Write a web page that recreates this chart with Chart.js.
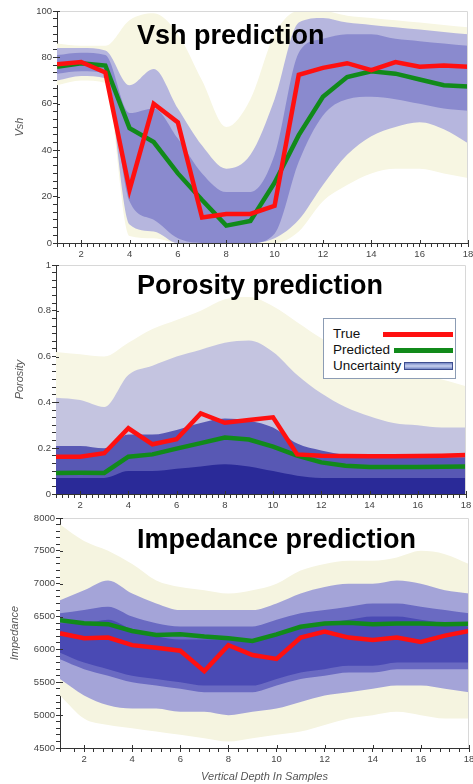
<!DOCTYPE html>
<html><head><meta charset="utf-8">
<script src="https://cdn.jsdelivr.net/npm/chart.js@4.4.0/dist/chart.umd.min.js"></script>
<style>
html,body{margin:0;padding:0;background:#fff;width:473px;height:784px;overflow:hidden;}
.panel{position:absolute;left:0;width:473px;}
#p1{top:0;height:262px;z-index:1}
#p2{top:258px;height:252px;z-index:2}
#p3{top:508px;height:276px;z-index:3;background:#fff}
canvas{display:block}
#legend{position:absolute;left:323px;top:318px;width:131px;height:59px;border:1px solid #8c9cb4;background:#fff;z-index:5;font-family:"Liberation Sans",Arial,sans-serif;font-size:13.5px;color:#111}
.row{position:absolute;left:9px;height:16px;line-height:16px;white-space:nowrap}
.sw{position:absolute;box-sizing:border-box}
</style></head>
<body>
<div class="panel" id="p1"><canvas id="c1" width="473" height="262"></canvas></div>
<div class="panel" id="p2"><canvas id="c2" width="473" height="252"></canvas></div>
<div class="panel" id="p3"><canvas id="c3" width="473" height="276"></canvas></div>
<div id="legend"></div>
<script>
// ---------- DATA ----------
const depth = [1,2,3,4,5,6,7,8,9,10,11,12,13,14,15,16,17,18];

// Vsh
const vshTrue = [77, 78, 73.5, 23, 60, 52, 11, 12.5, 12.5, 16, 72.5, 75.5, 77.5, 74.5, 78, 76, 76.5, 76];
const vshPred = [76, 77.5, 76.5, 49.5, 43.5, 30, 18.5, 7.5, 9.5, 26, 46.5, 63, 71.5, 74, 73, 70.5, 68, 67.5];
const vshOuterHi = [86, 85, 85, 96, 99, 90, 70, 50, 62, 90, 100, 100, 98, 97, 96, 95, 94, 93];
const vshOuterLo = [68, 70, 69, 3, 2, 0, 0, 0, 0, 0, 5, 18, 25, 30, 32, 32, 30, 28];
const vshMidHi = [84, 84, 83, 68, 75, 58, 42, 32, 38, 62, 95, 97, 95, 94, 93, 92, 91, 90];
const vshMidLo = [70, 72, 71, 8, 5, 0, 0, 0, 0, 2, 10, 25, 38, 46, 50, 52, 49, 43];
const vshCoreHi = [81, 82, 81, 56, 58, 45, 30, 22, 22, 38, 82, 88, 90, 90, 88, 87, 86, 85];
const vshCoreLo = [73, 74, 73, 18, 10, 2, 0, 0, 0, 4, 35, 55, 62, 63, 62, 60, 58, 57];

// Porosity
const poroTrue = [0.163, 0.163, 0.178, 0.287, 0.217, 0.239, 0.352, 0.311, 0.323, 0.335, 0.173, 0.167, 0.166, 0.165, 0.165, 0.166, 0.167, 0.17];
const poroPred = [0.092, 0.093, 0.092, 0.163, 0.173, 0.198, 0.222, 0.247, 0.238, 0.207, 0.168, 0.138, 0.123, 0.118, 0.118, 0.118, 0.119, 0.12];
const poroOuterHi = [0.62, 0.61, 0.6, 0.66, 0.72, 0.76, 0.8, 0.85, 0.86, 0.82, 0.75, 0.68, 0.62, 0.57, 0.54, 0.52, 0.5, 0.47];
const poroMidHi = [0.42, 0.41, 0.38, 0.52, 0.56, 0.6, 0.63, 0.66, 0.67, 0.62, 0.52, 0.44, 0.38, 0.34, 0.31, 0.3, 0.29, 0.29];
const poroCoreHi = [0.21, 0.21, 0.2, 0.26, 0.26, 0.28, 0.31, 0.33, 0.32, 0.29, 0.22, 0.19, 0.17, 0.16, 0.16, 0.16, 0.16, 0.16];
const poroDeepHi = [0.07, 0.07, 0.07, 0.1, 0.1, 0.11, 0.12, 0.13, 0.12, 0.1, 0.08, 0.07, 0.07, 0.07, 0.07, 0.07, 0.07, 0.07];

// Impedance
const impTrue = [6245, 6170, 6180, 6065, 6025, 5980, 5670, 6065, 5915, 5855, 6180, 6270, 6180, 6145, 6180, 6115, 6210, 6280];
const impPred = [6445, 6400, 6385, 6280, 6220, 6230, 6195, 6170, 6130, 6230, 6345, 6395, 6405, 6385, 6395, 6395, 6385, 6390];
const impOuterHi = [7900, 7650, 7500, 7300, 7050, 6950, 6900, 6850, 6900, 7000, 7200, 7300, 7350, 7350, 7400, 7500, 7450, 7300];
const impOuterLo = [5300, 4950, 4850, 4800, 4750, 4700, 4650, 4600, 4650, 4700, 4750, 4850, 4950, 5000, 5050, 5000, 4950, 4950];
const impMidHi = [6750, 6900, 7050, 6850, 6700, 6600, 6600, 6600, 6600, 6700, 6850, 6950, 7000, 7000, 7050, 7000, 6900, 6850];
const impMidLo = [5550, 5300, 5150, 5100, 5100, 5050, 5050, 5000, 5050, 5100, 5200, 5300, 5350, 5400, 5450, 5450, 5400, 5350];
const impCoreHi = [6550, 6600, 6650, 6500, 6400, 6350, 6350, 6350, 6350, 6450, 6550, 6600, 6650, 6700, 6700, 6650, 6600, 6550];
const impCoreLo = [5850, 5700, 5600, 5500, 5450, 5400, 5350, 5350, 5350, 5450, 5550, 5600, 5650, 5650, 5700, 5700, 5700, 5700];
const impDeepHi = [6400, 6400, 6450, 6300, 6200, 6150, 6150, 6150, 6150, 6250, 6350, 6400, 6450, 6500, 6500, 6450, 6400, 6350];
const impDeepLo = [5950, 5800, 5700, 5600, 5550, 5500, 5450, 5450, 5450, 5550, 5650, 5700, 5750, 5750, 5800, 5800, 5800, 5800];

const titles = ['Vsh prediction', 'Porosity prediction', 'Impedance prediction'];
const yTitles = ['Vsh', 'Porosity', 'Impedance'];
const xTitle = 'Vertical Depth In Samples';
const legendLabels = ['True', 'Predicted', 'Uncertainty'];

// ---------- STYLE ----------
const RED = '#ff1010', GREEN = '#118a1a';
const FONT = '"Liberation Sans", Arial, sans-serif';
const pts = arr => arr.map((v, i) => ({x: depth[i], y: v}));

function bandPair(hi, lo, color, order) {
  const base = {borderWidth: 0, pointRadius: 0, order, cubicInterpolationMode: 'monotone'};
  if (lo === null) return [Object.assign({data: pts(hi), fill: 'origin', backgroundColor: color}, base)];
  return [Object.assign({data: pts(hi), fill: '+1', backgroundColor: color}, base),
          Object.assign({data: pts(lo), fill: false}, base)];
}
function lineDs(arr, color, order) {
  return {data: pts(arr), borderColor: color, borderWidth: 4.5, pointRadius: 0, fill: false, order, tension: 0};
}

const panelTitle = {
  id: 'panelTitle',
  afterDatasetsDraw(chart, args, o) {
    const {ctx, chartArea} = chart;
    ctx.save();
    ctx.font = 'bold 27px ' + FONT;
    ctx.fillStyle = '#000';
    ctx.textBaseline = 'alphabetic';
    ctx.fillText(o.text, o.x, chartArea.top + o.dy);
    ctx.restore();
  }
};
const axesDeco = {
  id: 'axesDeco',
  afterDraw(chart, args, o) {
    const {ctx, chartArea: a, scales: {x, y}} = chart;
    ctx.save();
    ctx.lineWidth = 1;
    ctx.strokeStyle = '#d8d8d8';
    ctx.beginPath();
    ctx.moveTo(a.left, Math.round(a.top) + 0.5);
    ctx.lineTo(Math.round(a.right) - 0.5, Math.round(a.top) + 0.5);
    ctx.lineTo(Math.round(a.right) - 0.5, a.bottom);
    ctx.stroke();
    ctx.strokeStyle = '#333';
    ctx.beginPath();
    x.ticks.forEach(t => {
      if (o.xMajor(t.value)) {
        const px = Math.round(x.getPixelForValue(t.value)) + 0.5;
        ctx.moveTo(px, a.bottom); ctx.lineTo(px, a.bottom - 3);
      }
    });
    y.ticks.forEach(t => {
      if (o.yMajor(t.value)) {
        const py = Math.round(y.getPixelForValue(t.value)) + 0.5;
        ctx.moveTo(a.left, py); ctx.lineTo(a.left + 3, py);
      }
    });
    ctx.stroke();
    ctx.restore();
  }
};

const near = (v, m) => Math.abs(v / m - Math.round(v / m)) < 1e-6;
const xMajor = v => near(v, 2);

function makeChart(id, cfg) {
  const tickFont = {family: FONT, size: 9.5};
  return new Chart(document.getElementById(id), {
    type: 'line',
    data: {datasets: cfg.datasets},
    plugins: [panelTitle, axesDeco],
    options: {
      responsive: false, animation: false, events: [],
      layout: {padding: {top: cfg.top, right: cfg.right, left: 0, bottom: 0}},
      plugins: {legend: {display: false}, tooltip: {enabled: false},
        panelTitle: {text: cfg.title, x: 137, dy: cfg.titleDy},
        axesDeco: {xMajor, yMajor: cfg.yMajor}},
      scales: {
        x: {
          type: 'linear', min: 1, max: 18,
          ticks: {stepSize: cfg.xStep, autoSkip: false, maxRotation: 0, color: '#444', font: tickFont, padding: 2,
            callback: v => xMajor(v) ? String(Math.round(v)) : ''},
          grid: {drawOnChartArea: false, tickLength: 4, color: '#333'},
          border: {color: '#333'},
          title: cfg.xTitle ? {display: true, text: cfg.xTitle, color: '#555', font: {family: FONT, size: 11, style: 'italic'}, padding: {top: 0, bottom: 0}} : {display: false},
          afterFit(s) { s.height = cfg.xH; s.paddingLeft = 0; s.paddingRight = 0; }
        },
        y: {
          type: 'linear', min: cfg.yMin, max: cfg.yMax,
          ticks: {stepSize: cfg.yStep, autoSkip: false, color: '#444', font: tickFont, padding: 1,
            callback: v => cfg.yMajor(v) ? cfg.yFmt(v) : ''},
          grid: {drawOnChartArea: false, tickLength: 4, color: '#333'},
          border: {color: '#333'},
          title: {display: true, text: cfg.yTitle, color: '#555', font: {family: FONT, size: 11, style: 'italic'}, padding: {top: cfg.yTitlePad, bottom: 0}},
          afterFit(s) { s.width = cfg.yW; s.paddingTop = 0; s.paddingBottom = 0; }
        }
      }
    }
  });
}

// Panel 1: Vsh
makeChart('c1', {
  title: titles[0], titleDy: 33, top: 11, right: 5, xH: 19, yW: 57, yTitle: yTitles[0], yTitlePad: 13,
  xStep: 0.25, yMin: 0, yMax: 100, yStep: 20 / 6,
  yMajor: v => near(v, 20), yFmt: v => String(Math.round(v)),
  datasets: [
    lineDs(vshTrue, RED, 0), lineDs(vshPred, GREEN, 1),
    ...bandPair(vshCoreHi, vshCoreLo, '#8a8ace', 4),
    ...bandPair(vshMidHi, vshMidLo, '#b6b6de', 5),
    ...bandPair(vshOuterHi, vshOuterLo, '#f7f6e2', 6)
  ]
});

// Panel 2: Porosity
makeChart('c2', {
  title: titles[1], titleDy: 29, top: 7, right: 7, xH: 16, yW: 56, yTitle: yTitles[1], yTitlePad: 13,
  xStep: 0.25, yMin: 0, yMax: 1, yStep: 0.2 / 6,
  yMajor: v => near(v, 0.2), yFmt: v => String(Math.round(v * 10) / 10),
  datasets: [
    lineDs(poroTrue, RED, 0), lineDs(poroPred, GREEN, 1),
    ...bandPair(poroDeepHi, null, '#2a2a98', 3),
    ...bandPair(poroCoreHi, null, '#5858b4', 4),
    ...bandPair(poroMidHi, null, '#c4c4e0', 5),
    ...bandPair(poroOuterHi, null, '#f7f6e4', 6)
  ]
});

// Panel 3: Impedance
makeChart('c3', {
  title: titles[2], titleDy: 30, top: 10, right: 4, xH: 36, yW: 60, yTitle: yTitles[2], yTitlePad: 8,
  xStep: 0.4, yMin: 4500, yMax: 8000, yStep: 100, xTitle,
  yMajor: v => near(v, 500), yFmt: v => String(Math.round(v)),
  datasets: [
    lineDs(impTrue, RED, 0), lineDs(impPred, GREEN, 1),
    ...bandPair(impDeepHi, impDeepLo, '#4a4ab4', 3),
    ...bandPair(impCoreHi, impCoreLo, '#6a6ac2', 4),
    ...bandPair(impMidHi, impMidLo, '#a4a4d8', 5),
    ...bandPair(impOuterHi, impOuterLo, '#f5f4e0', 6)
  ]
});

// Legend (HTML)
const legendStyles = [
  {left: 59, width: 70, height: 5, bg: RED, border: 'none'},
  {left: 70, width: 59, height: 5, bg: GREEN, border: 'none'},
  {left: 80, width: 49, height: 8, bg: 'linear-gradient(#7486c4,#c8d2f0 50%,#7486c4)', border: '1px solid #3e4e90'}
];
const lg = document.getElementById('legend');
legendLabels.forEach((lab, i) => {
  const row = document.createElement('div');
  row.className = 'row'; row.style.top = (7 + i * 16) + 'px'; row.textContent = lab;
  lg.appendChild(row);
  const s = legendStyles[i], sw = document.createElement('div');
  sw.className = 'sw';
  sw.style.left = s.left + 'px'; sw.style.width = s.width + 'px'; sw.style.height = s.height + 'px';
  sw.style.top = (15 + i * 16 - s.height / 2) + 'px';
  sw.style.background = s.bg; sw.style.border = s.border;
  lg.appendChild(sw);
});
</script>
</body></html>
